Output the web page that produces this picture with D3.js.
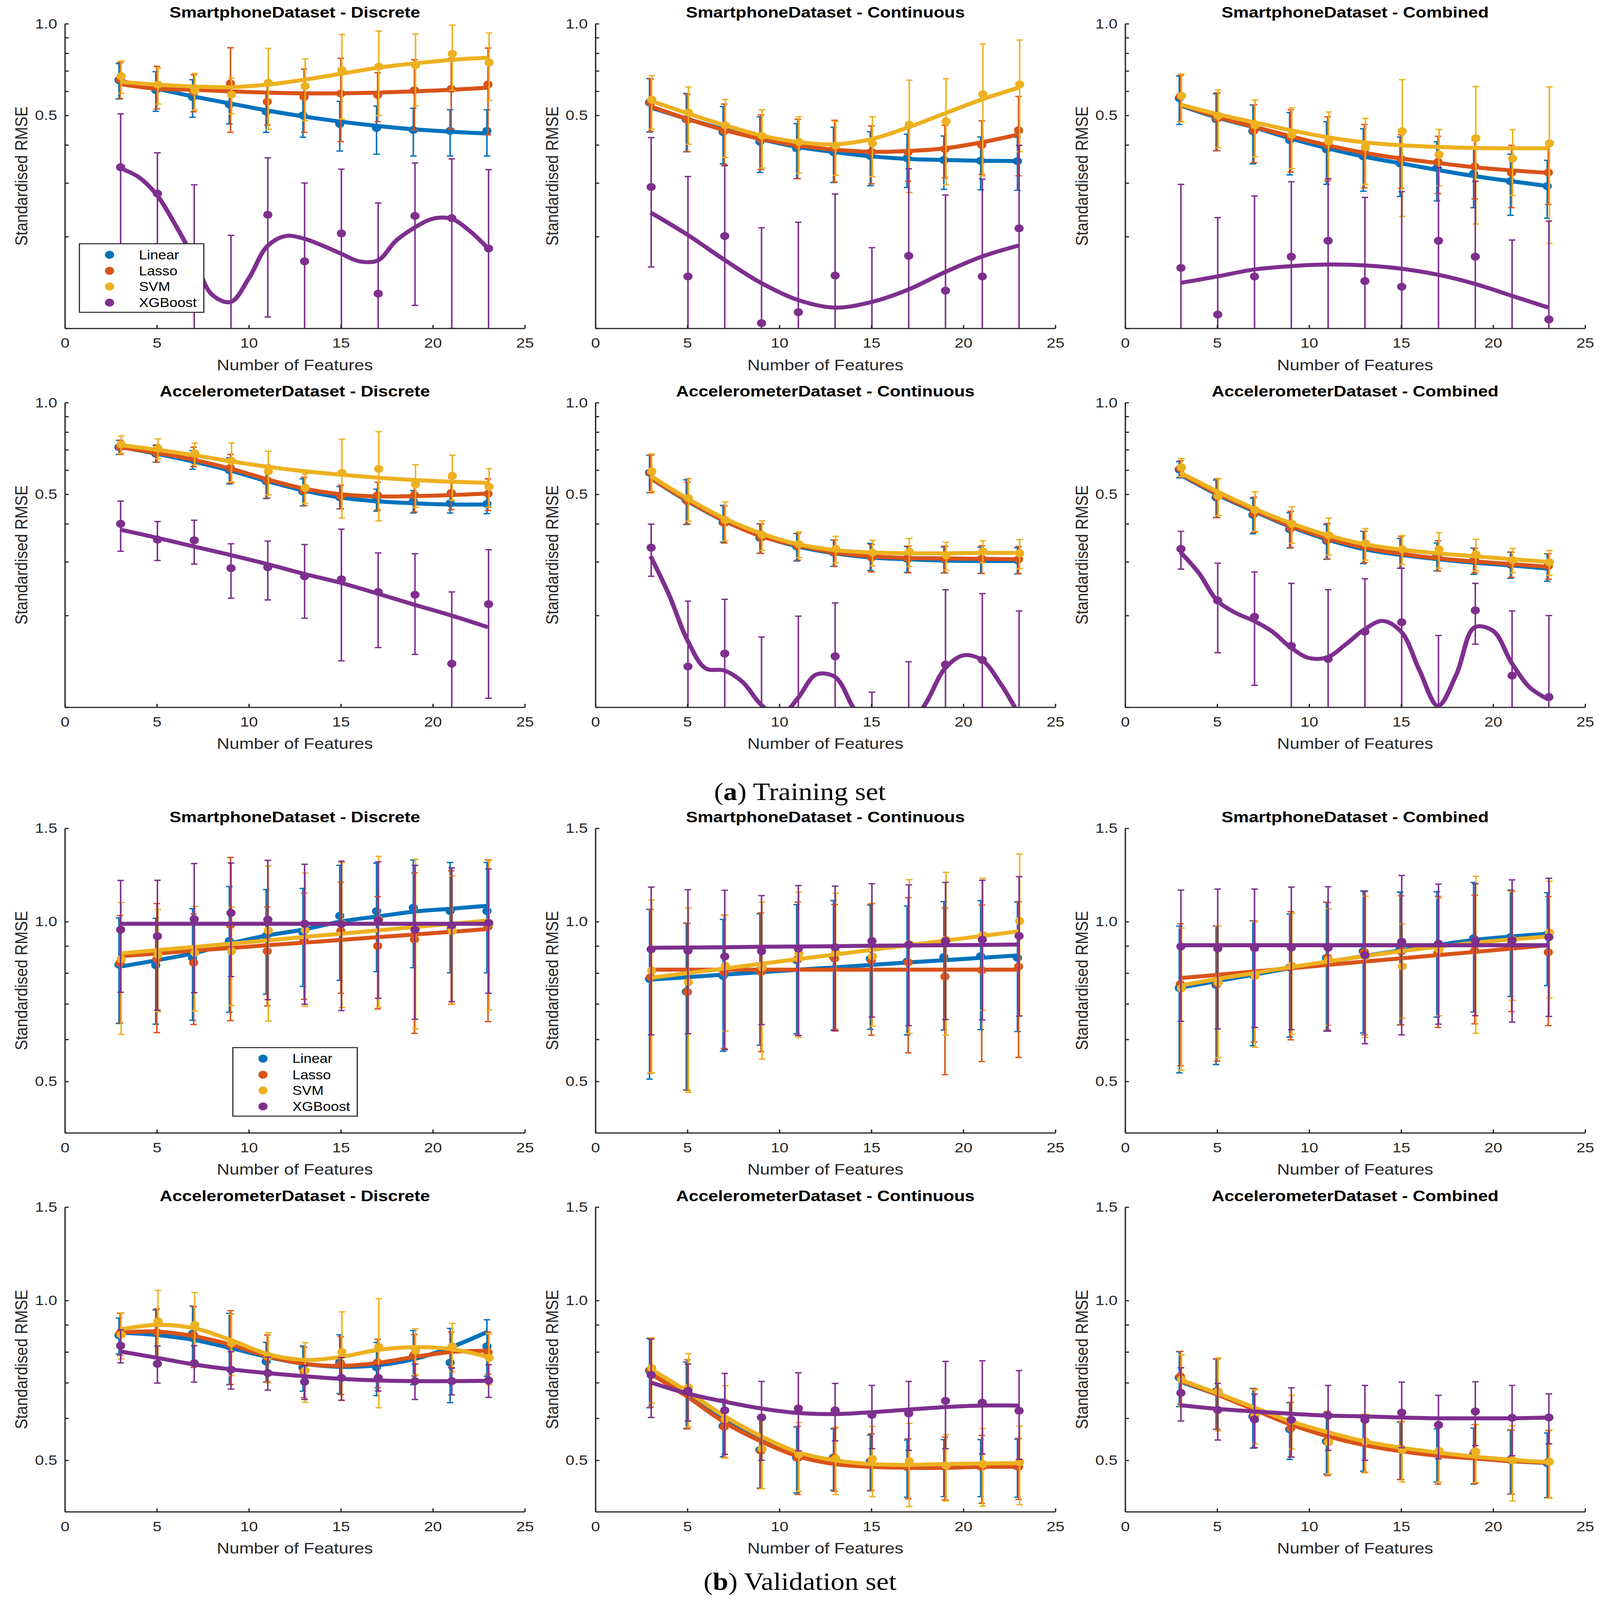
<!DOCTYPE html>
<html>
<head>
<meta charset="utf-8">
<title>Standardised RMSE against number of features</title>
<script src="https://d3js.org/d3.v7.min.js"></script>
<style>
html, body { margin: 0; padding: 0; width: 100%; height: 100%; overflow: hidden; background: #fff; }
#chart { width: 100vw; height: 100vh; }
svg { display: block; width: 100vw; height: 100vh; font-family: "Liberation Sans", Arial, Helvetica, sans-serif; }
</style>
</head>
<body>
<div id="chart"></div>
<script>

// ---- data ----
var features = [3, 5, 7, 9, 11, 13, 15, 17, 19, 21, 23];
var fineFeatures = [3, 4, 5, 6, 7, 8, 9, 10, 11, 12, 13, 14, 15, 16, 17, 18, 19, 20, 21, 22, 23];
var models = ["Linear", "Lasso", "SVM", "XGBoost"];
var trainTicks = [0.1, 0.2, 0.3, 0.4, 0.5, 0.6, 0.7, 0.8, 0.9, 1.0];
var trainLabels = [0.5, 1.0];
var validTicks = [0.4, 0.5, 0.6, 0.7, 0.8, 0.9, 1.0, 1.5];
var validLabels = [0.5, 1.0, 1.5];
var xTicks = [0, 5, 10, 15, 20, 25];

// training, smartphone, discrete  (rows: Linear, Lasso, SVM, XGBoost)
var trSmDiscMean = [
  [0.653, 0.606, 0.574, 0.543, 0.515, 0.500, 0.469, 0.455, 0.448, 0.445, 0.445],
  [0.657, 0.625, 0.597, 0.637, 0.555, 0.575, 0.590, 0.584, 0.605, 0.611, 0.632],
  [0.673, 0.631, 0.604, 0.585, 0.640, 0.624, 0.704, 0.723, 0.731, 0.797, 0.746],
  [0.338, 0.277, 0.160, 0.098, 0.236, 0.166, 0.205, 0.130, 0.234, 0.230, 0.183]];
var trSmDiscSd = [
  [0.087, 0.090, 0.081, 0.074, 0.075, 0.076, 0.087, 0.082, 0.080, 0.077, 0.077],
  [0.089, 0.100, 0.083, 0.197, 0.090, 0.135, 0.180, 0.107, 0.157, 0.160, 0.200],
  [0.082, 0.086, 0.083, 0.079, 0.190, 0.143, 0.218, 0.223, 0.194, 0.193, 0.186],
  [0.168, 0.100, 0.136, 0.104, 0.127, 0.134, 0.128, 0.128, 0.115, 0.130, 0.149]];
var trSmDiscFit = [
  [0.650, 0.612, 0.577, 0.547, 0.519, 0.496, 0.477, 0.462, 0.450, 0.442, 0.436],
  [0.634, 0.612, 0.607, 0.600, 0.594, 0.591, 0.591, 0.594, 0.600, 0.607, 0.617],
  [0.645, 0.631, 0.622, 0.619, 0.631, 0.655, 0.685, 0.717, 0.741, 0.761, 0.774],
  [0.336, 0.314, 0.274, 0.219, 0.170, 0.129, 0.122, 0.146, 0.186, 0.201, 0.197, 0.187, 0.176, 0.166, 0.167, 0.194, 0.214, 0.229, 0.229, 0.209, 0.183]];

// training, smartphone, continuous
var trSmContMean = [
  [0.551, 0.485, 0.441, 0.410, 0.390, 0.379, 0.368, 0.362, 0.357, 0.355, 0.354],
  [0.551, 0.483, 0.445, 0.417, 0.398, 0.392, 0.380, 0.379, 0.388, 0.400, 0.447],
  [0.563, 0.511, 0.464, 0.429, 0.409, 0.398, 0.405, 0.466, 0.478, 0.587, 0.632],
  [0.291, 0.148, 0.201, 0.104, 0.113, 0.149, 0.095, 0.173, 0.133, 0.148, 0.213]];
var trSmContSd = [
  [0.110, 0.105, 0.094, 0.085, 0.080, 0.078, 0.074, 0.072, 0.071, 0.070, 0.070],
  [0.108, 0.103, 0.100, 0.085, 0.088, 0.090, 0.082, 0.075, 0.076, 0.080, 0.130],
  [0.112, 0.109, 0.100, 0.093, 0.086, 0.080, 0.090, 0.187, 0.182, 0.271, 0.252],
  [0.132, 0.167, 0.141, 0.110, 0.110, 0.127, 0.089, 0.161, 0.141, 0.161, 0.186]];
var trSmContFit = [
  [0.531, 0.487, 0.450, 0.418, 0.394, 0.379, 0.367, 0.360, 0.357, 0.355, 0.354],
  [0.535, 0.487, 0.448, 0.419, 0.399, 0.386, 0.380, 0.382, 0.390, 0.408, 0.433],
  [0.559, 0.508, 0.465, 0.430, 0.409, 0.402, 0.418, 0.457, 0.508, 0.564, 0.617],
  [0.240, 0.203, 0.168, 0.141, 0.124, 0.117, 0.122, 0.134, 0.153, 0.172, 0.187]];

// training, smartphone, combined
var trSmCombMean = [
  [0.570, 0.486, 0.444, 0.415, 0.387, 0.367, 0.348, 0.336, 0.322, 0.304, 0.293],
  [0.577, 0.488, 0.446, 0.424, 0.400, 0.378, 0.360, 0.352, 0.340, 0.324, 0.325],
  [0.580, 0.499, 0.464, 0.432, 0.411, 0.393, 0.444, 0.372, 0.421, 0.361, 0.405],
  [0.158, 0.111, 0.148, 0.172, 0.194, 0.143, 0.137, 0.194, 0.172, 0.095, 0.107]];
var trSmCombSd = [
  [0.103, 0.103, 0.097, 0.096, 0.090, 0.085, 0.077, 0.074, 0.073, 0.069, 0.063],
  [0.100, 0.105, 0.096, 0.098, 0.095, 0.089, 0.072, 0.075, 0.074, 0.075, 0.070],
  [0.104, 0.107, 0.098, 0.098, 0.102, 0.096, 0.211, 0.078, 0.201, 0.088, 0.215],
  [0.139, 0.120, 0.124, 0.131, 0.116, 0.126, 0.144, 0.143, 0.132, 0.100, 0.118]];
var trSmCombFit = [
  [0.539, 0.492, 0.457, 0.420, 0.390, 0.366, 0.348, 0.331, 0.316, 0.304, 0.293],
  [0.543, 0.495, 0.459, 0.427, 0.399, 0.377, 0.361, 0.349, 0.338, 0.330, 0.324],
  [0.543, 0.505, 0.475, 0.447, 0.424, 0.408, 0.399, 0.394, 0.391, 0.390, 0.390],
  [0.141, 0.148, 0.156, 0.160, 0.162, 0.161, 0.157, 0.150, 0.140, 0.128, 0.117]];

// training, accelerometer, discrete
var trAcDiscMean = [
  [0.714, 0.680, 0.650, 0.600, 0.552, 0.510, 0.489, 0.480, 0.474, 0.467, 0.465],
  [0.714, 0.682, 0.665, 0.610, 0.555, 0.514, 0.492, 0.496, 0.497, 0.505, 0.502],
  [0.729, 0.707, 0.681, 0.643, 0.595, 0.525, 0.588, 0.606, 0.539, 0.575, 0.530],
  [0.400, 0.355, 0.353, 0.286, 0.288, 0.269, 0.263, 0.239, 0.234, 0.139, 0.218]];
var trAcDiscSd = [
  [0.038, 0.043, 0.046, 0.059, 0.068, 0.052, 0.041, 0.040, 0.040, 0.033, 0.033],
  [0.038, 0.045, 0.049, 0.066, 0.069, 0.055, 0.044, 0.052, 0.060, 0.060, 0.060],
  [0.048, 0.053, 0.056, 0.094, 0.097, 0.058, 0.170, 0.197, 0.086, 0.097, 0.077],
  [0.075, 0.052, 0.058, 0.058, 0.063, 0.073, 0.121, 0.082, 0.085, 0.100, 0.111]];
var trAcDiscFit = [
  [0.715, 0.679, 0.640, 0.598, 0.552, 0.514, 0.488, 0.474, 0.467, 0.463, 0.463],
  [0.713, 0.684, 0.649, 0.607, 0.560, 0.522, 0.500, 0.492, 0.493, 0.497, 0.503],
  [0.726, 0.700, 0.672, 0.642, 0.616, 0.595, 0.580, 0.567, 0.557, 0.550, 0.545],
  [0.383, 0.360, 0.337, 0.316, 0.295, 0.274, 0.256, 0.236, 0.217, 0.200, 0.183]];

// training, accelerometer, continuous
var trAcContMean = [
  [0.589, 0.478, 0.404, 0.360, 0.337, 0.322, 0.313, 0.307, 0.306, 0.305, 0.304],
  [0.589, 0.474, 0.402, 0.360, 0.338, 0.322, 0.310, 0.307, 0.307, 0.307, 0.306],
  [0.595, 0.486, 0.412, 0.368, 0.343, 0.331, 0.322, 0.324, 0.315, 0.325, 0.320],
  [0.334, 0.136, 0.150, 0.090, 0.090, 0.147, 0.060, 0.070, 0.138, 0.143, 0.090]];
var trAcContSd = [
  [0.083, 0.080, 0.056, 0.040, 0.035, 0.032, 0.032, 0.030, 0.030, 0.030, 0.030],
  [0.083, 0.074, 0.056, 0.040, 0.034, 0.032, 0.032, 0.031, 0.031, 0.032, 0.031],
  [0.084, 0.078, 0.060, 0.041, 0.033, 0.033, 0.031, 0.034, 0.033, 0.027, 0.035],
  [0.065, 0.087, 0.076, 0.080, 0.109, 0.073, 0.052, 0.071, 0.105, 0.093, 0.117]];
var trAcContFit = [
  [0.565, 0.475, 0.409, 0.365, 0.337, 0.320, 0.310, 0.306, 0.303, 0.302, 0.302],
  [0.566, 0.477, 0.410, 0.364, 0.340, 0.322, 0.313, 0.309, 0.308, 0.307, 0.306],
  [0.575, 0.484, 0.417, 0.372, 0.343, 0.328, 0.322, 0.320, 0.320, 0.321, 0.321],
  [0.313, 0.234, 0.166, 0.134, 0.132, 0.121, 0.102, 0.093, 0.107, 0.128, 0.126, 0.100, 0.080, 0.075, 0.085, 0.104, 0.134, 0.148, 0.143, 0.120, 0.095]];

// training, accelerometer, combined
var trAcCombMean = [
  [0.603, 0.488, 0.428, 0.384, 0.352, 0.337, 0.322, 0.313, 0.303, 0.294, 0.289],
  [0.607, 0.491, 0.432, 0.387, 0.354, 0.338, 0.325, 0.316, 0.304, 0.295, 0.291],
  [0.613, 0.494, 0.444, 0.400, 0.367, 0.345, 0.330, 0.330, 0.318, 0.304, 0.299],
  [0.331, 0.224, 0.198, 0.159, 0.144, 0.177, 0.190, 0.095, 0.208, 0.127, 0.108]];
var trAcCombSd = [
  [0.037, 0.069, 0.057, 0.051, 0.046, 0.041, 0.036, 0.033, 0.030, 0.029, 0.030],
  [0.037, 0.072, 0.057, 0.053, 0.047, 0.040, 0.039, 0.036, 0.028, 0.028, 0.028],
  [0.042, 0.068, 0.066, 0.055, 0.051, 0.041, 0.036, 0.044, 0.038, 0.028, 0.028],
  [0.047, 0.073, 0.080, 0.096, 0.099, 0.087, 0.096, 0.077, 0.047, 0.080, 0.092]];
var trAcCombFit = [
  [0.580, 0.499, 0.440, 0.391, 0.355, 0.330, 0.316, 0.306, 0.298, 0.292, 0.285],
  [0.584, 0.503, 0.443, 0.394, 0.359, 0.334, 0.319, 0.308, 0.301, 0.295, 0.289],
  [0.589, 0.511, 0.449, 0.402, 0.367, 0.343, 0.329, 0.320, 0.313, 0.306, 0.300],
  [0.323, 0.276, 0.224, 0.204, 0.192, 0.177, 0.157, 0.145, 0.146, 0.161, 0.180, 0.192, 0.177, 0.132, 0.101, 0.128, 0.183, 0.178, 0.140, 0.116, 0.106]];

// validation, smartphone, discrete
var vaSmDiscMean = [
  [0.830, 0.828, 0.855, 0.920, 0.940, 0.955, 1.026, 1.047, 1.063, 1.047, 1.047],
  [0.836, 0.850, 0.837, 0.986, 0.880, 0.923, 0.960, 0.900, 0.926, 0.973, 0.978],
  [0.850, 0.866, 0.874, 0.880, 0.962, 0.964, 0.991, 1.009, 0.970, 0.960, 0.993],
  [0.966, 0.939, 1.011, 1.039, 1.009, 0.991, 0.990, 1.007, 0.966, 0.985, 0.995]];
var vaSmDiscSd = [
  [0.187, 0.187, 0.203, 0.245, 0.210, 0.200, 0.251, 0.242, 0.244, 0.246, 0.246],
  [0.191, 0.232, 0.197, 0.335, 0.186, 0.209, 0.227, 0.215, 0.310, 0.274, 0.330],
  [0.237, 0.189, 0.195, 0.185, 0.312, 0.271, 0.302, 0.319, 0.342, 0.260, 0.311],
  [0.230, 0.258, 0.276, 0.251, 0.296, 0.292, 0.310, 0.290, 0.311, 0.278, 0.262]];
var vaSmDiscFit = [
  [0.823, 0.846, 0.872, 0.910, 0.942, 0.967, 1.001, 1.023, 1.045, 1.058, 1.072],
  [0.861, 0.871, 0.882, 0.892, 0.903, 0.913, 0.924, 0.935, 0.946, 0.957, 0.969],
  [0.871, 0.884, 0.896, 0.909, 0.922, 0.936, 0.949, 0.963, 0.977, 0.991, 1.005],
  [0.991, 0.991, 0.991, 0.991, 0.991, 0.991, 0.991, 0.991, 0.991, 0.991, 0.991]];

// validation, smartphone, continuous
var vaSmContMean = [
  [0.780, 0.738, 0.790, 0.810, 0.846, 0.860, 0.851, 0.841, 0.858, 0.861, 0.855],
  [0.786, 0.737, 0.803, 0.804, 0.850, 0.852, 0.846, 0.838, 0.788, 0.810, 0.823],
  [0.809, 0.769, 0.826, 0.820, 0.871, 0.877, 0.860, 0.908, 0.925, 0.944, 1.003],
  [0.887, 0.882, 0.860, 0.880, 0.890, 0.895, 0.920, 0.905, 0.920, 0.925, 0.940]];
var vaSmContSd = [
  [0.275, 0.256, 0.220, 0.225, 0.231, 0.236, 0.224, 0.229, 0.233, 0.235, 0.234],
  [0.268, 0.256, 0.226, 0.235, 0.239, 0.225, 0.235, 0.272, 0.273, 0.265, 0.268],
  [0.290, 0.292, 0.204, 0.269, 0.266, 0.255, 0.224, 0.292, 0.314, 0.263, 0.338],
  [0.275, 0.267, 0.286, 0.240, 0.280, 0.272, 0.259, 0.268, 0.266, 0.272, 0.276]];
var vaSmContFit = [
  [0.778, 0.786, 0.795, 0.803, 0.812, 0.820, 0.829, 0.838, 0.846, 0.855, 0.864],
  [0.812, 0.812, 0.812, 0.812, 0.812, 0.812, 0.812, 0.812, 0.812, 0.812, 0.812],
  [0.784, 0.800, 0.816, 0.833, 0.850, 0.867, 0.885, 0.903, 0.921, 0.940, 0.959],
  [0.893, 0.894, 0.895, 0.897, 0.898, 0.899, 0.901, 0.902, 0.903, 0.904, 0.906]];

// validation, smartphone, combined
var vaSmCombMean = [
  [0.750, 0.760, 0.794, 0.820, 0.855, 0.880, 0.888, 0.900, 0.931, 0.935, 0.946],
  [0.763, 0.764, 0.798, 0.822, 0.856, 0.877, 0.879, 0.874, 0.882, 0.910, 0.876],
  [0.749, 0.768, 0.790, 0.826, 0.848, 0.861, 0.824, 0.886, 0.917, 0.925, 0.955],
  [0.898, 0.890, 0.892, 0.894, 0.893, 0.865, 0.917, 0.909, 0.922, 0.923, 0.935]];
var vaSmCombSd = [
  [0.231, 0.222, 0.210, 0.214, 0.233, 0.263, 0.249, 0.239, 0.255, 0.212, 0.188],
  [0.228, 0.218, 0.205, 0.223, 0.231, 0.265, 0.240, 0.242, 0.240, 0.233, 0.239],
  [0.224, 0.214, 0.210, 0.212, 0.210, 0.256, 0.166, 0.221, 0.301, 0.214, 0.237],
  [0.249, 0.262, 0.260, 0.268, 0.271, 0.276, 0.305, 0.268, 0.257, 0.276, 0.272]];
var vaSmCombFit = [
  [0.751, 0.773, 0.795, 0.818, 0.840, 0.862, 0.883, 0.904, 0.924, 0.938, 0.949],
  [0.783, 0.794, 0.806, 0.817, 0.829, 0.841, 0.853, 0.865, 0.877, 0.890, 0.903],
  [0.758, 0.780, 0.800, 0.821, 0.841, 0.861, 0.880, 0.897, 0.913, 0.926, 0.938],
  [0.903, 0.903, 0.903, 0.903, 0.903, 0.903, 0.903, 0.903, 0.903, 0.903, 0.903]];

// validation, accelerometer, discrete
var vaAcDiscMean = [
  [0.860, 0.870, 0.866, 0.820, 0.768, 0.748, 0.765, 0.748, 0.786, 0.764, 0.820],
  [0.867, 0.872, 0.861, 0.826, 0.782, 0.736, 0.760, 0.765, 0.792, 0.810, 0.799],
  [0.862, 0.914, 0.900, 0.832, 0.785, 0.738, 0.800, 0.818, 0.805, 0.820, 0.780],
  [0.822, 0.760, 0.762, 0.741, 0.730, 0.703, 0.715, 0.715, 0.705, 0.705, 0.707]];
var vaAcDiscSd = [
  [0.067, 0.090, 0.110, 0.126, 0.066, 0.073, 0.097, 0.086, 0.092, 0.122, 0.100],
  [0.079, 0.093, 0.113, 0.131, 0.079, 0.080, 0.095, 0.080, 0.071, 0.062, 0.073],
  [0.086, 0.131, 0.135, 0.110, 0.085, 0.095, 0.152, 0.190, 0.080, 0.086, 0.086],
  [0.059, 0.061, 0.060, 0.060, 0.052, 0.052, 0.066, 0.040, 0.054, 0.041, 0.050]];
var vaAcDiscFit = [
  [0.870, 0.861, 0.843, 0.814, 0.783, 0.760, 0.750, 0.755, 0.776, 0.817, 0.874],
  [0.870, 0.874, 0.857, 0.826, 0.786, 0.760, 0.753, 0.763, 0.783, 0.800, 0.804],
  [0.882, 0.900, 0.887, 0.843, 0.793, 0.773, 0.783, 0.807, 0.817, 0.810, 0.783],
  [0.802, 0.780, 0.758, 0.742, 0.730, 0.720, 0.712, 0.707, 0.705, 0.705, 0.706]];

// validation, accelerometer, continuous
var vaAcContMean = [
  [0.738, 0.670, 0.580, 0.523, 0.506, 0.506, 0.498, 0.486, 0.487, 0.487, 0.487],
  [0.740, 0.673, 0.578, 0.521, 0.505, 0.506, 0.500, 0.486, 0.487, 0.486, 0.486],
  [0.746, 0.686, 0.598, 0.526, 0.513, 0.504, 0.503, 0.498, 0.489, 0.492, 0.496],
  [0.724, 0.676, 0.621, 0.602, 0.626, 0.621, 0.609, 0.613, 0.647, 0.642, 0.620]];
var vaAcContSd = [
  [0.110, 0.096, 0.072, 0.080, 0.072, 0.067, 0.060, 0.060, 0.060, 0.060, 0.061],
  [0.110, 0.100, 0.072, 0.079, 0.074, 0.069, 0.061, 0.063, 0.066, 0.071, 0.064],
  [0.105, 0.108, 0.093, 0.084, 0.076, 0.073, 0.076, 0.089, 0.070, 0.082, 0.084],
  [0.122, 0.083, 0.108, 0.102, 0.105, 0.077, 0.083, 0.091, 0.121, 0.128, 0.118]];
var vaAcContFit = [
  [0.734, 0.665, 0.600, 0.549, 0.513, 0.494, 0.487, 0.486, 0.487, 0.488, 0.489],
  [0.728, 0.659, 0.590, 0.543, 0.509, 0.492, 0.486, 0.484, 0.484, 0.486, 0.486],
  [0.743, 0.674, 0.606, 0.555, 0.518, 0.500, 0.492, 0.490, 0.492, 0.493, 0.494],
  [0.701, 0.668, 0.645, 0.626, 0.614, 0.611, 0.616, 0.623, 0.630, 0.634, 0.634]];

// validation, accelerometer, combined
var vaAcCombMean = [
  [0.716, 0.674, 0.605, 0.572, 0.543, 0.541, 0.525, 0.514, 0.513, 0.501, 0.494],
  [0.720, 0.674, 0.605, 0.575, 0.543, 0.542, 0.526, 0.515, 0.518, 0.501, 0.497],
  [0.710, 0.674, 0.608, 0.594, 0.541, 0.543, 0.523, 0.521, 0.519, 0.500, 0.497],
  [0.670, 0.622, 0.597, 0.596, 0.607, 0.596, 0.615, 0.583, 0.618, 0.601, 0.602]];
var vaAcCombSd = [
  [0.085, 0.102, 0.078, 0.070, 0.072, 0.064, 0.065, 0.059, 0.062, 0.069, 0.069],
  [0.082, 0.102, 0.077, 0.068, 0.075, 0.068, 0.066, 0.064, 0.066, 0.069, 0.072],
  [0.080, 0.106, 0.071, 0.069, 0.070, 0.068, 0.068, 0.066, 0.065, 0.081, 0.073],
  [0.077, 0.076, 0.069, 0.089, 0.085, 0.096, 0.087, 0.080, 0.085, 0.091, 0.065]];
var vaAcCombFit = [
  [0.703, 0.665, 0.626, 0.587, 0.557, 0.536, 0.521, 0.511, 0.504, 0.498, 0.494],
  [0.706, 0.665, 0.623, 0.584, 0.555, 0.534, 0.520, 0.510, 0.504, 0.498, 0.495],
  [0.709, 0.669, 0.629, 0.592, 0.565, 0.543, 0.528, 0.517, 0.508, 0.501, 0.496],
  [0.635, 0.625, 0.618, 0.612, 0.607, 0.605, 0.602, 0.600, 0.600, 0.600, 0.602]];

// ---- layout (drawn in a 4192 x 4785 coordinate frame, scaled to the window) ----
var width = 4192, height = 4785;
var colX = [170, 1560, 2948];
var rowTop = [71, 1204, 2477, 3610];
var plotW = 1205, plotH = 911;
var colors = ["#0072BD", "#D95319", "#EDB120", "#7E2F8E"];
var dodge = [-0.06, 0, 0.06, 0.03];
var axisColor = "#262626";

var panels = [
  { title: "SmartphoneDataset - Discrete",       row: 0, col: 0, mean: trSmDiscMean, sd: trSmDiscSd, fit: trSmDiscFit, legend: [38, 658] },
  { title: "SmartphoneDataset - Continuous",     row: 0, col: 1, mean: trSmContMean, sd: trSmContSd, fit: trSmContFit },
  { title: "SmartphoneDataset - Combined",       row: 0, col: 2, mean: trSmCombMean, sd: trSmCombSd, fit: trSmCombFit },
  { title: "AccelerometerDataset - Discrete",    row: 1, col: 0, mean: trAcDiscMean, sd: trAcDiscSd, fit: trAcDiscFit },
  { title: "AccelerometerDataset - Continuous",  row: 1, col: 1, mean: trAcContMean, sd: trAcContSd, fit: trAcContFit },
  { title: "AccelerometerDataset - Combined",    row: 1, col: 2, mean: trAcCombMean, sd: trAcCombSd, fit: trAcCombFit },
  { title: "SmartphoneDataset - Discrete",       row: 2, col: 0, mean: vaSmDiscMean, sd: vaSmDiscSd, fit: vaSmDiscFit, legend: [440, 656] },
  { title: "SmartphoneDataset - Continuous",     row: 2, col: 1, mean: vaSmContMean, sd: vaSmContSd, fit: vaSmContFit },
  { title: "SmartphoneDataset - Combined",       row: 2, col: 2, mean: vaSmCombMean, sd: vaSmCombSd, fit: vaSmCombFit },
  { title: "AccelerometerDataset - Discrete",    row: 3, col: 0, mean: vaAcDiscMean, sd: vaAcDiscSd, fit: vaAcDiscFit },
  { title: "AccelerometerDataset - Continuous",  row: 3, col: 1, mean: vaAcContMean, sd: vaAcContSd, fit: vaAcContFit },
  { title: "AccelerometerDataset - Combined",    row: 3, col: 2, mean: vaAcCombMean, sd: vaAcCombSd, fit: vaAcCombFit }
];

var svg = d3.select("#chart").append("svg")
  .attr("viewBox", "0 0 " + width + " " + height)
  .attr("preserveAspectRatio", "none");

svg.append("rect").attr("width", width).attr("height", height).style("fill", "#fff");

var defs = svg.append("defs");
var fmt = d3.format(".1f");

function drawPanel(p, i) {
  var x0 = colX[p.col], top = rowTop[p.row];
  var training = p.row < 2;
  var domain = training ? [0.1, 1.0] : [0.4, 1.5];
  var ticks = training ? trainTicks : validTicks;
  var labels = training ? trainLabels : validLabels;

  var x = d3.scaleLinear().domain([0, 25]).range([x0, x0 + plotW]);
  var y = d3.scaleLog().domain(domain).range([top + plotH, top]);
  var bottom = top + plotH;

  defs.append("clipPath").attr("id", "clip" + i)
    .append("rect").attr("x", x0).attr("y", top).attr("width", plotW).attr("height", plotH);

  var g = svg.append("g");
  var plot = g.append("g").attr("clip-path", "url(#clip" + i + ")");

  // y pixel for a value that may be <= 0 (error bar running off the log axis)
  function yPix(v) { return v > 0 ? y(v) : bottom + 200; }

  models.forEach(function (m, k) {
    var mean = p.mean[k], sd = p.sd[k], fit = p.fit[k];
    var pts = mean.map(function (v, j) {
      return { x: features[j] + dodge[k], m: v, lo: v - sd[j], hi: v + sd[j] };
    });
    var s = plot.append("g").style("stroke", colors[k]).style("fill", colors[k]);

    s.selectAll(".bar").data(pts).enter().append("line")
      .attr("class", "bar")
      .attr("x1", function (d) { return x(d.x); })
      .attr("x2", function (d) { return x(d.x); })
      .attr("y1", function (d) { return yPix(d.lo); })
      .attr("y2", function (d) { return y(d.hi); })
      .style("stroke-width", 4);

    ["lo", "hi"].forEach(function (end) {
      s.selectAll(".cap-" + end).data(pts).enter().append("line")
        .attr("class", "cap-" + end)
        .attr("x1", function (d) { return x(d.x) - 8.5; })
        .attr("x2", function (d) { return x(d.x) + 8.5; })
        .attr("y1", function (d) { return yPix(d[end]); })
        .attr("y2", function (d) { return yPix(d[end]); })
        .style("stroke-width", 4);
    });

    s.selectAll(".dot").data(pts.filter(function (d) { return d.m >= domain[0]; }))
      .enter().append("circle")
      .attr("class", "dot")
      .attr("cx", function (d) { return x(d.x); })
      .attr("cy", function (d) { return y(d.m); })
      .attr("r", 12)
      .style("stroke", "none");

    var fx = fit.length === fineFeatures.length ? fineFeatures : features;
    var line = d3.line()
      .x(function (d, j) { return x(fx[j]); })
      .y(function (d) { return y(d); })
      .curve(d3.curveCatmullRom.alpha(0.5));

    s.append("path")
      .attr("d", line(fit))
      .style("fill", "none")
      .style("stroke-width", 12)
      .style("stroke-linejoin", "round");
  });

  // axes (box off: left and bottom only, ticks pointing inwards)
  var yAxis = d3.axisLeft(y)
    .tickValues(ticks)
    .tickSize(-10).tickSizeOuter(0).tickPadding(20)
    .tickFormat(function (d) { return labels.indexOf(d) >= 0 ? fmt(d) : ""; });
  var xAxis = d3.axisBottom(x)
    .tickValues(xTicks)
    .tickSize(-10).tickSizeOuter(0).tickPadding(28)
    .tickFormat(d3.format("d"));

  var ya = g.append("g").attr("transform", "translate(" + x0 + ",0)").call(yAxis);
  var xa = g.append("g").attr("transform", "translate(0," + bottom + ")").call(xAxis);

  [ya, xa].forEach(function (a) {
    a.attr("font-family", null).attr("font-size", null);
    a.select(".domain").style("stroke", axisColor).style("stroke-width", 3.5);
    a.selectAll(".tick line").style("stroke", axisColor).style("stroke-width", 3.5);
    a.selectAll(".tick text").style("fill", axisColor).style("font-size", "42px");
  });

  g.append("text")
    .attr("x", x0 + plotW / 2).attr("y", top - 18)
    .attr("text-anchor", "middle")
    .style("font-size", "46px").style("font-weight", "bold").style("fill", "#000")
    .text(p.title);

  g.append("text")
    .attr("x", x0 + plotW / 2).attr("y", bottom + 125)
    .attr("text-anchor", "middle")
    .style("font-size", "46px").style("fill", axisColor)
    .text("Number of Features");

  g.append("text")
    .attr("transform", "translate(" + (x0 - 98) + "," + (top + plotH / 2) + ") rotate(-90)")
    .attr("text-anchor", "middle")
    .style("font-size", "46px").style("fill", axisColor)
    .text("Standardised RMSE");

  if (p.legend) {
    var lg = g.append("g")
      .attr("transform", "translate(" + (x0 + p.legend[0]) + "," + (top + p.legend[1]) + ")");
    lg.append("rect")
      .attr("width", 326).attr("height", 205)
      .style("fill", "#fff").style("stroke", axisColor).style("stroke-width", 3);
    var rowsY = [33, 81, 128, 176];
    models.forEach(function (m, k) {
      lg.append("circle").attr("cx", 79).attr("cy", rowsY[k]).attr("r", 12)
        .style("fill", colors[k]);
      lg.append("text").attr("x", 156).attr("y", rowsY[k]).attr("dy", "0.35em")
        .style("font-size", "37.8px").style("fill", "#000")
        .text(m);
    });
  }
}

panels.forEach(drawPanel);

// sub-figure captions
var captions = [
  { letter: "a", text: " Training set", y: 2393 },
  { letter: "b", text: " Validation set", y: 4755 }
];
captions.forEach(function (c) {
  var t = svg.append("text")
    .attr("x", width / 2).attr("y", c.y)
    .attr("text-anchor", "middle")
    .style("font-family", "'Liberation Serif', 'DejaVu Serif', serif")
    .style("font-size", "73px").style("fill", "#000");
  t.append("tspan").text("(");
  t.append("tspan").style("font-weight", "bold").text(c.letter);
  t.append("tspan").text(")" + c.text);
});

</script>
</body>
</html>
